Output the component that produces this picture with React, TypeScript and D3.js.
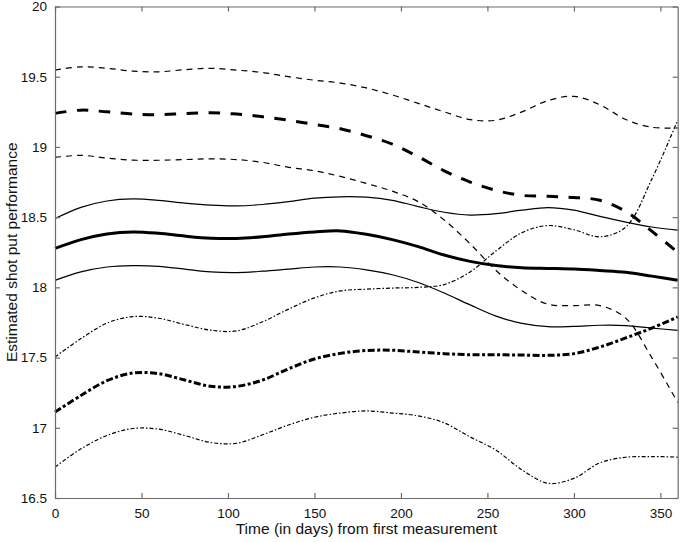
import * as d3 from "d3";
import { useEffect, useRef } from "react";

// days sampled every 15
const days = [
  0, 15, 30, 45, 60, 75, 90, 105, 120, 135, 150, 165, 180, 195, 210, 225, 240,
  255, 270, 285, 300, 315, 330, 345, 360,
];

// dashed group
const dashedUpper = [
  19.547, 19.57, 19.56, 19.54, 19.535, 19.55, 19.56, 19.547, 19.53, 19.5,
  19.475, 19.455, 19.42, 19.37, 19.31, 19.25, 19.195, 19.19, 19.25, 19.33,
  19.36, 19.3, 19.195, 19.14, 19.135,
];
const dashedMean = [
  19.239, 19.262, 19.25, 19.235, 19.23, 19.238, 19.243, 19.234, 19.215, 19.19,
  19.16, 19.13, 19.08, 19.02, 18.93, 18.83, 18.75, 18.69, 18.655, 18.648,
  18.64, 18.62, 18.54, 18.4, 18.25,
];
const dashedLower = [
  18.925, 18.94, 18.92, 18.906, 18.905, 18.91, 18.915, 18.91, 18.89, 18.855,
  18.83, 18.79, 18.74, 18.685, 18.61, 18.48, 18.31, 18.12, 17.975, 17.88,
  17.87, 17.87, 17.78, 17.5, 17.18,
];

// solid group
const solidUpper = [
  18.49, 18.57, 18.615, 18.63, 18.62, 18.6, 18.585, 18.58, 18.59, 18.61,
  18.635, 18.645, 18.642, 18.62, 18.575, 18.535, 18.515, 18.525, 18.55,
  18.568, 18.55, 18.505, 18.465, 18.43, 18.407,
];
const solidMean = [
  18.277, 18.34, 18.38, 18.395, 18.385, 18.365, 18.35, 18.348, 18.36, 18.38,
  18.395, 18.402, 18.378, 18.34, 18.29, 18.23, 18.185, 18.155, 18.14, 18.135,
  18.13, 18.12, 18.108, 18.08, 18.05,
];
const solidLower = [
  18.05, 18.11, 18.145, 18.155, 18.15, 18.13, 18.11, 18.105, 18.115, 18.13,
  18.145, 18.145, 18.125, 18.09, 18.035, 17.96, 17.875, 17.795, 17.743,
  17.72, 17.722, 17.73, 17.728, 17.71, 17.694,
];

// dash-dot group
const dashDotUpper = [
  17.504, 17.635, 17.745, 17.792, 17.78, 17.735, 17.695, 17.69, 17.755,
  17.845, 17.925, 17.975, 17.987, 17.995, 18.0, 18.02, 18.11, 18.26, 18.39,
  18.44, 18.41, 18.36, 18.43, 18.77, 19.19,
];
const dashDotMean = [
  17.112, 17.23, 17.335, 17.39, 17.385, 17.34, 17.295, 17.295, 17.34, 17.42,
  17.49, 17.53, 17.55, 17.552, 17.54, 17.528, 17.52, 17.52, 17.518, 17.516,
  17.528, 17.575, 17.64, 17.71, 17.789,
];
const dashDotLower = [
  16.72, 16.85, 16.945, 16.995, 16.99, 16.945, 16.895, 16.89, 16.95, 17.02,
  17.075, 17.105, 17.12, 17.105, 17.085, 17.035, 16.935, 16.84, 16.7, 16.605,
  16.64, 16.75, 16.79, 16.795, 16.791,
];

const xTicks = [0, 50, 100, 150, 200, 250, 300, 350];
const yTicks = [16.5, 17, 17.5, 18, 18.5, 19, 19.5, 20];

const series = [
  { values: dashedUpper, width: 1.2, dash: "6 5" },
  { values: dashedMean, width: 3, dash: "11.5 10.5" },
  { values: dashedLower, width: 1.2, dash: "6 5" },
  { values: solidUpper, width: 1.2, dash: null },
  { values: solidMean, width: 3, dash: null },
  { values: solidLower, width: 1.2, dash: null },
  { values: dashDotUpper, width: 1.2, dash: "4 2 1.5 2" },
  { values: dashDotMean, width: 3, dash: "7 2.5 3 2.5" },
  { values: dashDotLower, width: 1.2, dash: "4 2 1.5 2" },
];

const App = () => {
  const ref = useRef<SVGSVGElement>(null);
  const width = 680;
  const height = 542;

  useEffect(() => {
    const margin = { top: 6.5, right: 2.3, bottom: 44, left: 55 };
    const svg = d3.select(ref.current);
    svg.selectAll("*").remove();

    const x = d3
      .scaleLinear()
      .domain([0, 360])
      .range([margin.left, width - margin.right]);
    const y = d3
      .scaleLinear()
      .domain([16.5, 20])
      .range([height - margin.bottom, margin.top]);

    const line = d3
      .line<number>()
      .x((_, i) => x(days[i]))
      .y((d) => y(d))
      .curve(d3.curveCatmullRom.alpha(0.5));

    const font = "'Liberation Sans', Arial, Helvetica, sans-serif";
    const axisColor = "#6b6b6b";

    svg
      .append("g")
      .selectAll("path")
      .data(series)
      .join("path")
      .attr("d", (s) => line(s.values))
      .attr("fill", "none")
      .attr("stroke", "#000")
      .attr("stroke-width", (s) => s.width)
      .attr("stroke-dasharray", (s) => s.dash ?? null);

    const styleAxis = (g: d3.Selection<SVGGElement, unknown, null, undefined>) => {
      g.select(".domain").attr("stroke", axisColor).attr("stroke-width", 1.2);
      g.selectAll(".tick line").attr("stroke", axisColor).attr("stroke-width", 1.2);
      g.selectAll(".tick text")
        .attr("fill", "#111")
        .style("font-family", font)
        .style("font-size", "13.5px");
    };

    // bottom axis
    svg
      .append("g")
      .attr("transform", `translate(0, ${height - margin.bottom})`)
      .call(
        d3
          .axisBottom(x)
          .tickValues(xTicks)
          .tickSizeInner(-5)
          .tickSizeOuter(0)
          .tickPadding(10)
          .tickFormat((d) => `${d}`)
      )
      .call(styleAxis);

    // left axis
    svg
      .append("g")
      .attr("transform", `translate(${margin.left}, 0)`)
      .call(
        d3
          .axisLeft(y)
          .tickValues(yTicks)
          .tickSizeInner(-5)
          .tickSizeOuter(0)
          .tickPadding(8)
          .tickFormat((d) => `${d}`)
      )
      .call(styleAxis);

    // top axis (box)
    svg
      .append("g")
      .attr("transform", `translate(0, ${margin.top})`)
      .call(
        d3
          .axisTop(x)
          .tickValues(xTicks)
          .tickSizeInner(-5)
          .tickSizeOuter(0)
          .tickFormat(() => "")
      )
      .call(styleAxis);

    // right axis (box)
    svg
      .append("g")
      .attr("transform", `translate(${width - margin.right}, 0)`)
      .call(
        d3
          .axisRight(y)
          .tickValues(yTicks)
          .tickSizeInner(-5)
          .tickSizeOuter(0)
          .tickFormat(() => "")
      )
      .call(styleAxis);

    svg
      .append("text")
      .attr("x", (margin.left + width - margin.right) / 2)
      .attr("y", 534)
      .attr("text-anchor", "middle")
      .style("font-family", font)
      .style("font-size", "15.5px")
      .attr("fill", "#111")
      .text("Time (in days) from first measurement");

    svg
      .append("text")
      .attr("transform", "rotate(-90)")
      .attr("x", -(margin.top + height - margin.bottom) / 2)
      .attr("y", 17)
      .attr("text-anchor", "middle")
      .style("font-family", font)
      .style("font-size", "15.5px")
      .attr("fill", "#111")
      .text("Estimated shot put performance");
  }, []);

  return (
    <div style={{ position: "absolute", left: 0, top: 0 }}>
      <svg
        ref={ref}
        width={width}
        height={height}
        style={{ display: "block", background: "#fff" }}
      ></svg>
    </div>
  );
};

export default App;
